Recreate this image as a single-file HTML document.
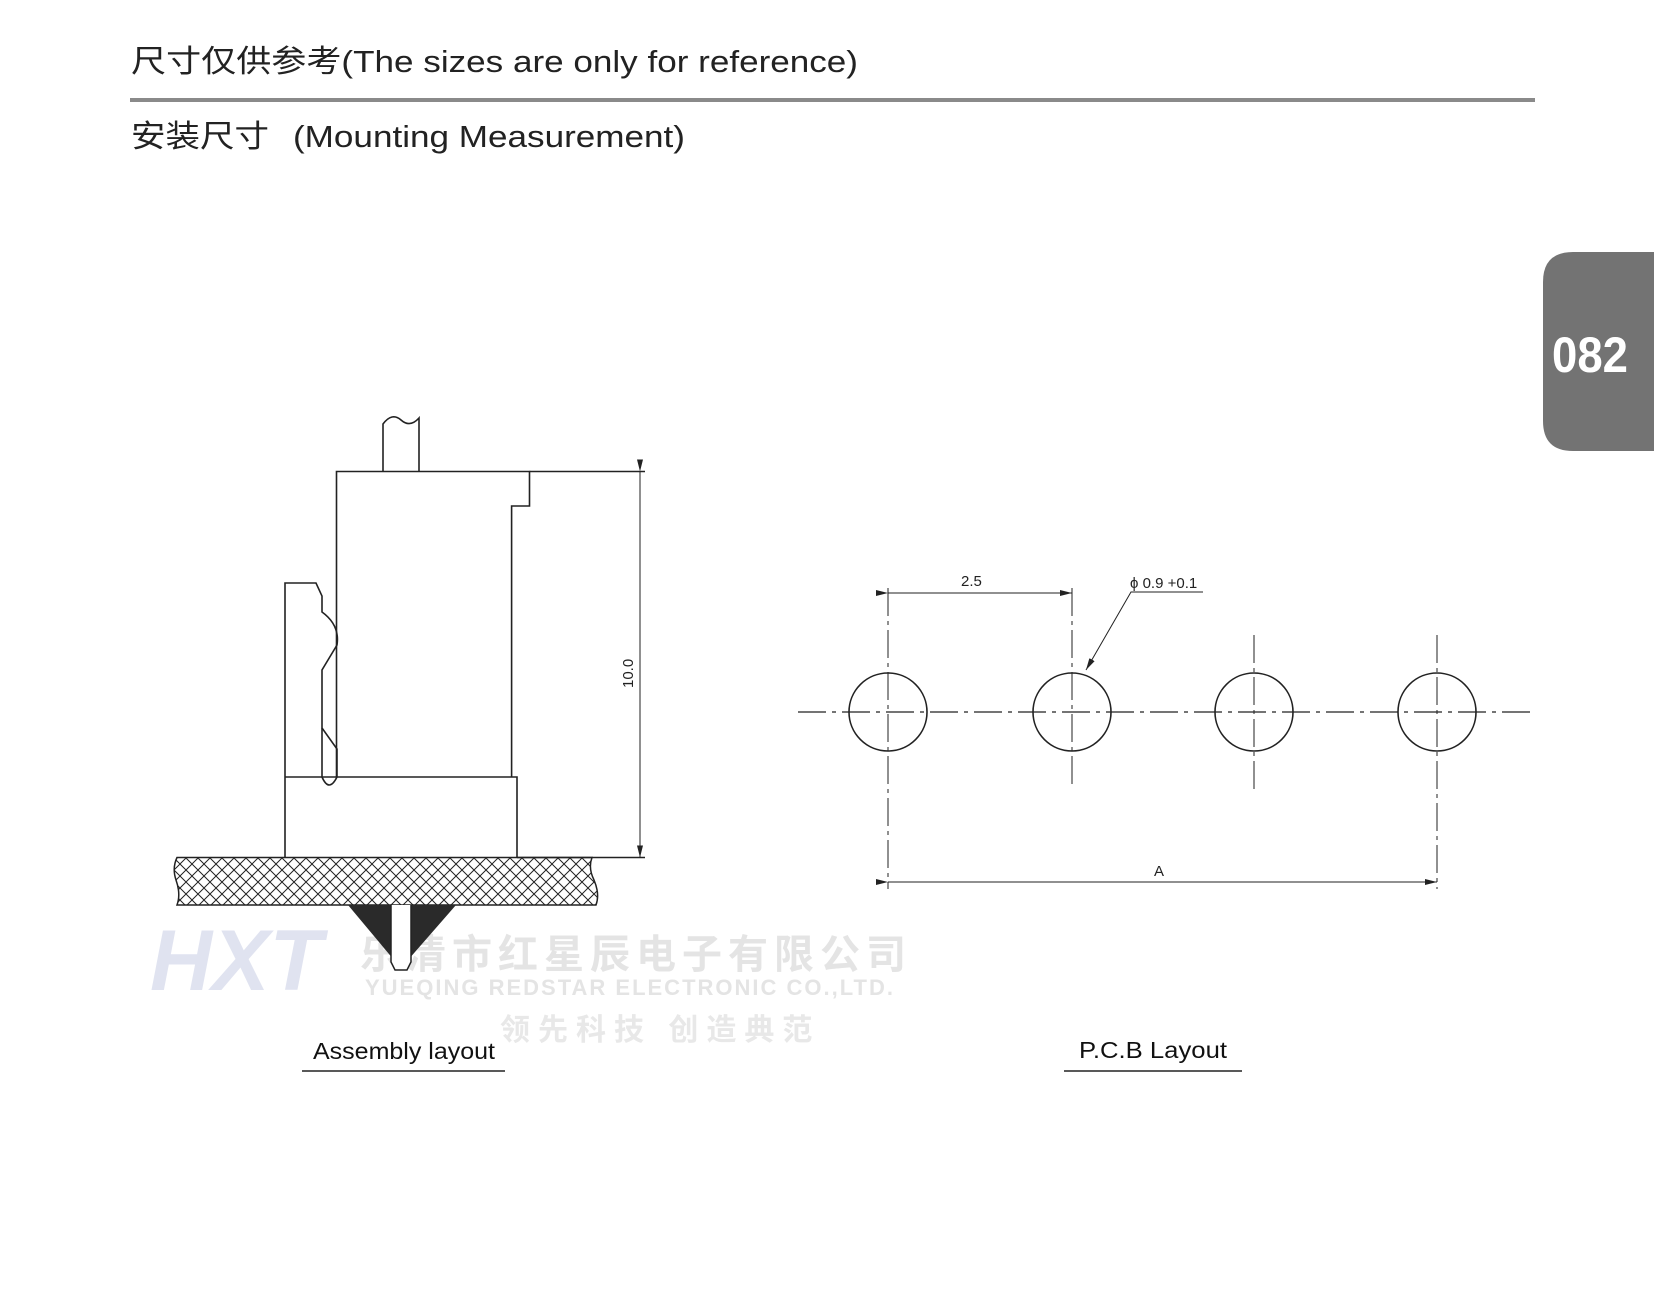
<!DOCTYPE html>
<html><head><meta charset="utf-8"><style>
html,body{margin:0;padding:0;background:#fff;}
svg{display:block}
</style></head><body>
<svg width="1654" height="1307" viewBox="0 0 1654 1307" xmlns="http://www.w3.org/2000/svg" font-family="Liberation Sans, Noto Sans CJK SC, sans-serif">
<defs>
<pattern id="hatch" width="12" height="12" patternUnits="userSpaceOnUse">
<path d="M0,0 L12,12 M12,0 L0,12" stroke="#222" stroke-width="1"/>
</pattern>
<marker id="ar" markerWidth="12" markerHeight="6" refX="12" refY="3" orient="auto" markerUnits="userSpaceOnUse"><path d="M0,0 L12,3 L0,6z" fill="#222"/></marker>
</defs>
<!-- watermarks -->
<g font-weight="bold">
<text x="150" y="990" font-size="86" font-style="italic" fill="#e0e3f0">HXT</text>
<text x="360" y="968" font-size="40" letter-spacing="6" fill="#e4e4e4">乐清市红星辰电子有限公司</text>
<text x="365" y="995" font-size="22" letter-spacing="2" fill="#e4e4e4">YUEQING REDSTAR ELECTRONIC CO.,LTD.</text>
<text x="500" y="1040" font-size="30" letter-spacing="8" fill="#e8e8e8">领先科技 创造典范</text>
</g>
<!-- header -->
<text x="131" y="72" font-size="31" fill="#222" textLength="727" lengthAdjust="spacingAndGlyphs">尺寸仅供参考(The sizes are only for reference)</text>
<rect x="130" y="98" width="1405" height="4" fill="#8a8a8a"/>
<text x="131" y="147" font-size="31" fill="#222" textLength="138" lengthAdjust="spacingAndGlyphs">安装尺寸</text>
<text x="293" y="147" font-size="31" fill="#222" textLength="392" lengthAdjust="spacingAndGlyphs">(Mounting Measurement)</text>
<!-- tab -->
<path d="M1573,252 H1654 V451 H1573 Q1543,451 1543,421 V282 Q1543,252 1573,252z" fill="#737373"/>
<text x="1590" y="372" font-size="50" font-weight="bold" fill="#fff" text-anchor="middle" textLength="76" lengthAdjust="spacingAndGlyphs">082</text>
<!-- assembly -->
<g fill="none" stroke="#222" stroke-width="1.6">
<path d="M383,471 V424 Q392,412 401,420 Q410,428 419,418 V471"/>
<path d="M336.5,777 V471.5 H529.5 V506 H511.6 V777"/>
<path d="M285,857 V583 H316 L322,596 V612 Q340,625 337,645 L322,670 V728 L337,749 V777"/>
<path d="M322,728 V777 Q329,793 337,777"/>
<path d="M285,777 H517 V857"/>
<path d="M529.5,471.5 H645 M517,857.5 H645"/>
<line x1="640" y1="471.5" x2="640" y2="857.5" marker-start="url(#ar)" marker-end="url(#ar)" stroke-width="1"/>
</g>
<text transform="translate(633,688) rotate(-90)" font-size="15" fill="#222">10.0</text>
<path d="M177,857.5 H592 Q588,868 594,880 Q600,894 596,905 H177 Q181,894 176,880 Q172,868 177,857.5z" fill="url(#hatch)" stroke="#222" stroke-width="1.5"/>
<path d="M348,905 L394,960 L394,905z M456,905 L408,960 L408,905z" fill="#2a2a2a"/>
<path d="M391,905 V962 L395,970 H407 L411,962 V905" fill="#fff" stroke="#222" stroke-width="1.5"/>
<!-- PCB -->
<g fill="none" stroke="#222">
<line x1="798" y1="712" x2="1532" y2="712" stroke-dasharray="28,6,4,6" stroke-width="1.2"/>
<g stroke-width="1" stroke-dasharray="28,5,4,5">
<line x1="888" y1="588" x2="888" y2="889"/>
<line x1="1072" y1="588" x2="1072" y2="789"/>
<line x1="1254" y1="635" x2="1254" y2="789"/>
<line x1="1437" y1="635" x2="1437" y2="889"/>
</g>
<g stroke-width="1.6">
<circle cx="888" cy="712" r="39"/><circle cx="1072" cy="712" r="39"/><circle cx="1254" cy="712" r="39"/><circle cx="1437" cy="712" r="39"/>
</g>
<line x1="888" y1="593" x2="1072" y2="593" stroke-width="1" marker-start="url(#ar)" marker-end="url(#ar)"/>
<line x1="888" y1="882" x2="1437" y2="882" stroke-width="1" marker-start="url(#ar)" marker-end="url(#ar)"/>
<path d="M1203,592 H1131 L1086,670" stroke-width="1" marker-end="url(#ar)"/>
</g>
<text x="961" y="586" font-size="15" fill="#222">2.5</text>
<text x="1130" y="588" font-size="15" fill="#222">ϕ 0.9 +0.1</text>
<text x="1154" y="876" font-size="15" fill="#222">A</text>
<!-- captions -->
<text x="313" y="1059" font-size="23" fill="#111" textLength="182" lengthAdjust="spacingAndGlyphs">Assembly layout</text>
<line x1="302" y1="1071" x2="505" y2="1071" stroke="#222" stroke-width="1.5"/>
<text x="1079" y="1058" font-size="23" fill="#111" textLength="148" lengthAdjust="spacingAndGlyphs">P.C.B Layout</text>
<line x1="1064" y1="1071" x2="1242" y2="1071" stroke="#222" stroke-width="1.5"/>
</svg>
</body></html>
